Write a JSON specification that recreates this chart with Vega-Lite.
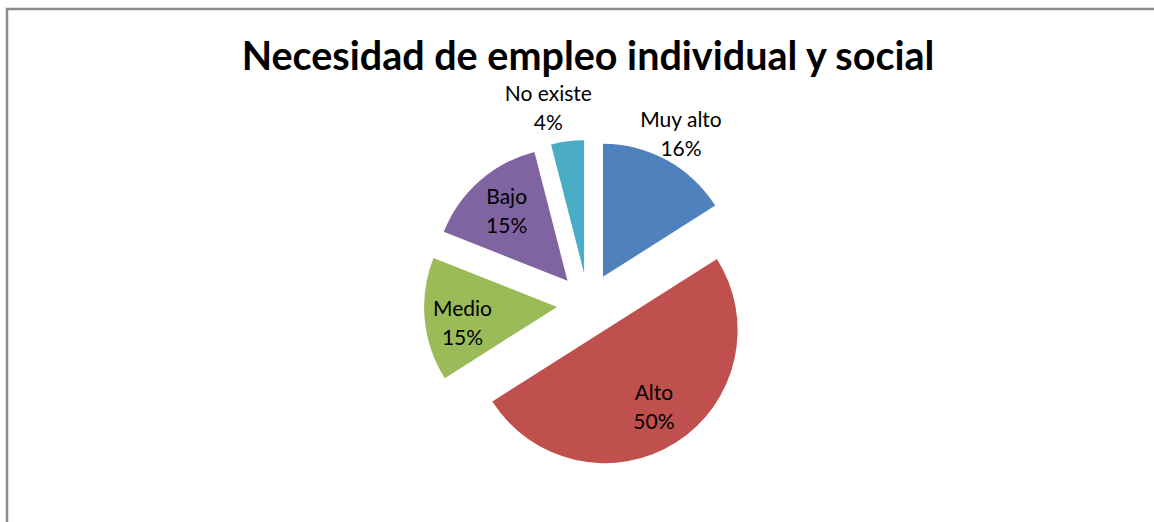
{
  "$schema": "https://vega.github.io/schema/vega-lite/v6.json",
  "width": 1162,
  "height": 590,
  "autosize": "none",
  "padding": {"left": 7, "top": 9, "right": -15, "bottom": -77},
  "background": "white",
  "view": {"stroke": "#8c8c8c", "strokeWidth": 2.5, "fill": null},
  "datasets": {
    "respuestas": [
      {"categoria": "Muy alto", "valor": 0.16, "orden": 1},
      {"categoria": "Alto", "valor": 0.50, "orden": 2},
      {"categoria": "Medio", "valor": 0.15, "orden": 3},
      {"categoria": "Bajo", "valor": 0.15, "orden": 4},
      {"categoria": "No existe", "valor": 0.04, "orden": 5}
    ],
    "encabezado": [
      {"titulo": "Necesidad de empleo individual y social"}
    ]
  },
  "layer": [
    {
      "data": {"name": "respuestas"},
      "mark": {
        "type": "arc",
        "outerRadius": 133,
        "xOffset": {"expr": "31*sin((scale('theta', datum.valor_start) + scale('theta', datum.valor_end))/2)"},
        "yOffset": {"expr": "-31*cos((scale('theta', datum.valor_start) + scale('theta', datum.valor_end))/2)"}
      },
      "encoding": {
        "theta": {"field": "valor", "type": "quantitative", "stack": true},
        "order": {"field": "orden", "type": "quantitative"},
        "color": {
          "field": "categoria",
          "type": "nominal",
          "scale": {
            "domain": ["Muy alto", "Alto", "Medio", "Bajo", "No existe"],
            "range": ["#4F81BD", "#C0504D", "#9BBB59", "#8064A2", "#4BACC6"]
          },
          "legend": null
        }
      }
    },
    {
      "data": {"name": "respuestas"},
      "mark": {
        "type": "text",
        "radius": {"expr": "datum.categoria == 'Muy alto' ? 193 : datum.categoria == 'No existe' ? 199 : datum.categoria == 'Medio' ? 127 : 123"},
        "thetaOffset": {"expr": "datum.categoria == 'No existe' ? -0.075 : datum.categoria == 'Medio' ? -0.06 : 0"},
        "dy": -14,
        "font": "Lato",
        "fontSize": 21,
        "color": "#000000"
      },
      "encoding": {
        "theta": {"field": "valor", "type": "quantitative", "stack": true},
        "order": {"field": "orden", "type": "quantitative"},
        "text": {"field": "categoria", "type": "nominal"}
      }
    },
    {
      "data": {"name": "respuestas"},
      "mark": {
        "type": "text",
        "radius": {"expr": "datum.categoria == 'Muy alto' ? 193 : datum.categoria == 'No existe' ? 199 : datum.categoria == 'Medio' ? 127 : 123"},
        "thetaOffset": {"expr": "datum.categoria == 'No existe' ? -0.075 : datum.categoria == 'Medio' ? -0.06 : 0"},
        "dy": 15,
        "font": "Lato",
        "fontSize": 21,
        "color": "#000000"
      },
      "encoding": {
        "theta": {"field": "valor", "type": "quantitative", "stack": true},
        "order": {"field": "orden", "type": "quantitative"},
        "text": {"field": "valor", "type": "quantitative", "format": ".0%"}
      }
    },
    {
      "data": {"name": "encabezado"},
      "mark": {
        "type": "text",
        "radius": 234,
        "align": "center",
        "baseline": "alphabetic",
        "font": "Lato",
        "fontWeight": "bold",
        "fontSize": 39.5,
        "color": "#000000"
      },
      "encoding": {
        "theta": {"datum": 0, "type": "quantitative"},
        "text": {"field": "titulo", "type": "nominal"}
      }
    }
  ]
}
